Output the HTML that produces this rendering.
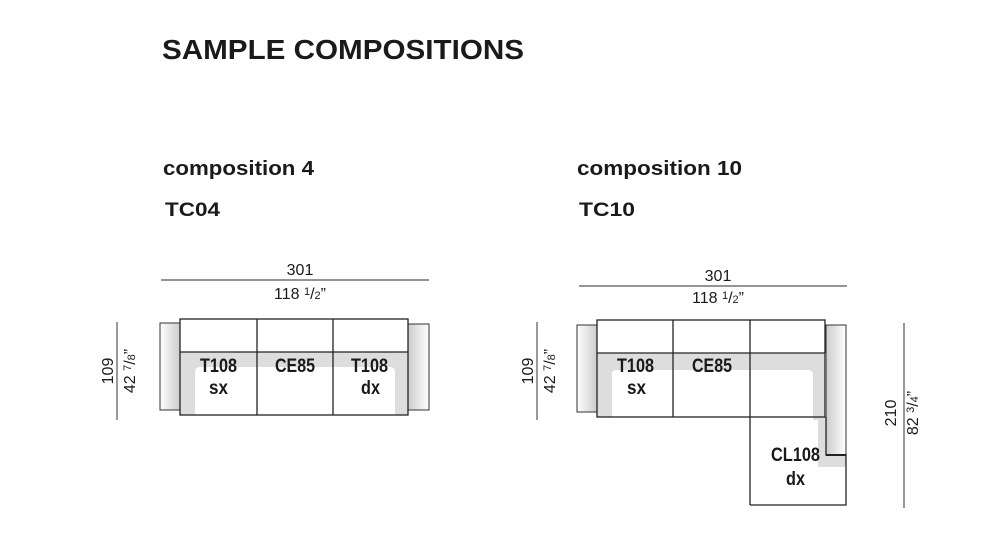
<!DOCTYPE html>
<html><head><meta charset="utf-8"><style>
html,body{margin:0;padding:0;background:#fff;}
svg{display:block;}
text{font-family:"Liberation Sans",sans-serif;fill:#1a1a1a;}
.b{font-weight:bold;}
.lab{font-weight:bold;font-size:19px;}
.dim{font-size:16px;}
</style></head><body>
<svg width="1000" height="549" viewBox="0 0 1000 549" xmlns="http://www.w3.org/2000/svg">
<defs>
<linearGradient id="arm" x1="0" x2="1"><stop offset="0" stop-color="#fff"/><stop offset="1" stop-color="#ccc"/></linearGradient>
<linearGradient id="armr" x1="0" x2="1"><stop offset="0" stop-color="#ccc"/><stop offset="1" stop-color="#fff"/></linearGradient>
</defs>
<text class="b" x="162" y="59" font-size="28" textLength="362" lengthAdjust="spacingAndGlyphs">SAMPLE COMPOSITIONS</text>
<text class="b" x="163" y="175" font-size="20" textLength="151" lengthAdjust="spacingAndGlyphs">composition 4</text>
<text class="b" x="165" y="216" font-size="19" textLength="55" lengthAdjust="spacingAndGlyphs">TC04</text>
<text class="b" x="577" y="175" font-size="20" textLength="165" lengthAdjust="spacingAndGlyphs">composition 10</text>
<text class="b" x="579" y="216" font-size="19" textLength="56" lengthAdjust="spacingAndGlyphs">TC10</text>

<!-- comp 4 -->
<g stroke="#333" stroke-width="1.2" fill="none">
<line x1="161" y1="280" x2="429" y2="280" stroke="#555"/>
<line x1="117" y1="322" x2="117" y2="420" stroke="#555"/>
</g>
<text class="dim" x="300" y="275" text-anchor="middle">301</text>
<text class="dim" x="300" y="299" text-anchor="middle">118 <tspan font-size="11" dy="-4">1</tspan><tspan dy="4">/</tspan><tspan font-size="11">2</tspan>”</text>
<text class="dim" transform="translate(113,371) rotate(-90)" text-anchor="middle">109</text>
<text class="dim" transform="translate(135,371) rotate(-90)" text-anchor="middle">42 <tspan font-size="11" dy="-4">7</tspan><tspan dy="4">/</tspan><tspan font-size="11">8</tspan>”</text>
<rect x="160" y="323" width="20" height="87" fill="url(#arm)" stroke="#333"/>
<rect x="408" y="324" width="21" height="86" fill="url(#armr)" stroke="#333"/>
<rect x="180" y="352" width="228" height="63" fill="#ddd"/>
<path d="M195 415 V372 Q195 367 200 367 H390 Q395 367 395 372 V415 Z" fill="#fff"/>
<rect x="180" y="319" width="228" height="33" fill="#fff"/>
<g stroke="#222" stroke-width="1.3" fill="none">
<rect x="180" y="319" width="228" height="96"/>
<line x1="180" y1="352" x2="408" y2="352"/>
<line x1="257" y1="319" x2="257" y2="415"/>
<line x1="333" y1="319" x2="333" y2="415"/>
</g>
<text class="lab" x="200" y="372" textLength="37" lengthAdjust="spacingAndGlyphs">T108</text>
<text class="lab" x="209" y="394" textLength="19" lengthAdjust="spacingAndGlyphs">sx</text>
<text class="lab" x="275" y="372" textLength="40" lengthAdjust="spacingAndGlyphs">CE85</text>
<text class="lab" x="351" y="372" textLength="37" lengthAdjust="spacingAndGlyphs">T108</text>
<text class="lab" x="361" y="394" textLength="19" lengthAdjust="spacingAndGlyphs">dx</text>

<!-- comp 10 -->
<g stroke="#555" stroke-width="1.2">
<line x1="579" y1="286" x2="847" y2="286"/>
<line x1="537" y1="322" x2="537" y2="420"/>
<line x1="904" y1="323" x2="904" y2="508"/>
</g>
<text class="dim" x="718" y="281" text-anchor="middle">301</text>
<text class="dim" x="718" y="303" text-anchor="middle">118 <tspan font-size="11" dy="-4">1</tspan><tspan dy="4">/</tspan><tspan font-size="11">2</tspan>”</text>
<text class="dim" transform="translate(533,371) rotate(-90)" text-anchor="middle">109</text>
<text class="dim" transform="translate(555,371) rotate(-90)" text-anchor="middle">42 <tspan font-size="11" dy="-4">7</tspan><tspan dy="4">/</tspan><tspan font-size="11">8</tspan>”</text>
<text class="dim" transform="translate(896,413) rotate(-90)" text-anchor="middle">210</text>
<text class="dim" transform="translate(918,413) rotate(-90)" text-anchor="middle">82 <tspan font-size="11" dy="-4">3</tspan><tspan dy="4">/</tspan><tspan font-size="11">4</tspan>”</text>
<rect x="577" y="325" width="20" height="87" fill="url(#arm)" stroke="#333"/>
<rect x="826" y="325" width="20" height="130" fill="url(#armr)" stroke="#333"/>
<path d="M597 353 H826 V455 H846 V467 H818 V420 H750 V417 H597 Z" fill="#ddd"/>
<path d="M612 417 V374 Q612 370 617 370 H808 Q813 370 813 375 V462 H750 V417 Z" fill="#fff"/>
<path d="M750 417 H808 Q813 417 813 430 V462 Q813 467 822 467 H846 V505 H750 Z" fill="#fff"/>
<rect x="597" y="320" width="228" height="33" fill="#fff"/>
<g stroke="#222" stroke-width="1.3" fill="none">
<rect x="597" y="320" width="228" height="97"/>
<line x1="597" y1="353" x2="825" y2="353"/>
<line x1="673" y1="320" x2="673" y2="417"/>
<line x1="750" y1="320" x2="750" y2="505"/>
<path d="M750 505 H846 V455 H826 V417"/>
<line x1="826" y1="455" x2="846" y2="455" stroke-width="2"/>
</g>
<text class="lab" x="617" y="372" textLength="37" lengthAdjust="spacingAndGlyphs">T108</text>
<text class="lab" x="627" y="394" textLength="19" lengthAdjust="spacingAndGlyphs">sx</text>
<text class="lab" x="692" y="372" textLength="40" lengthAdjust="spacingAndGlyphs">CE85</text>
<text class="lab" x="771" y="461" textLength="49" lengthAdjust="spacingAndGlyphs">CL108</text>
<text class="lab" x="786" y="485" textLength="19" lengthAdjust="spacingAndGlyphs">dx</text>
</svg>
</body></html>
